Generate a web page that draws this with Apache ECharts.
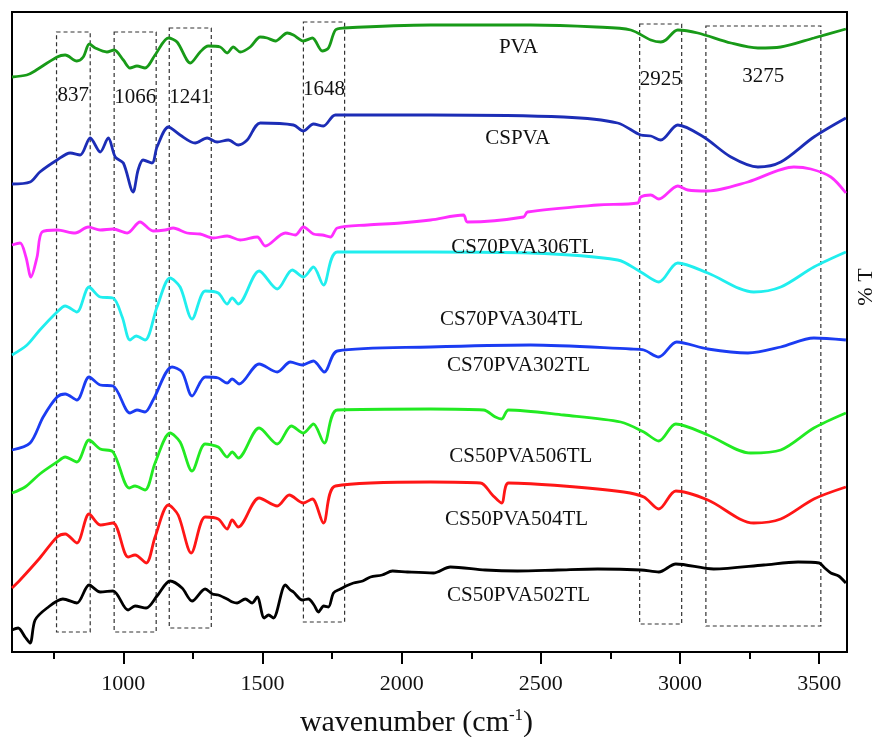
<!DOCTYPE html>
<html>
<head>
<meta charset="utf-8">
<script src="https://cdn.jsdelivr.net/npm/echarts@6/dist/echarts.min.js"></script>
<style>
  html, body { margin: 0; padding: 0; background: #fff; }
  #ftirChart { width: 883px; height: 737px; }
</style>
</head>
<body>
<div id="ftirChart"></div>
<script>
// FTIR spectra, [wavenumber (cm-1), %T with stacking offset]
const pva = [[600,575],[653,577],[676,580],[762,595],[791,597],[833,591],[856,595],[878,608],[899,604],[941,600],[967,602],[1000,592],[1024,584],[1049,586],[1078,584],[1114,597],[1162,614],[1193,610],[1241,589],[1276,600],[1305,606],[1348,605],[1373,599],[1395,605],[1420,600],[1456,605],[1492,615],[1517,614],[1546,611],[1589,619],[1611,617],[1647,611],[1679,614],[1715,601],[1737,604],[1762,622],[1791,624],[2104,627],[2463,627],[2700,625],[2823,622],[2895,612],[2931,610],[2949,612],[2992,622],[3064,619],[3183,609],[3280,604],[3362,605],[3481,614],[3596,623]];
const cspva = [[600,468],[665,470],[700,480],[762,492],[809,499],[845,497],[881,514],[917,500],[946,514],[971,495],[1000,489],[1035,460],[1053,482],[1071,492],[1103,489],[1121,505],[1162,525],[1204,517],[1258,509],[1301,514],[1337,510],[1377,512],[1413,507],[1445,512],[1492,529],[1611,527],[1647,521],[1683,528],[1719,526],[1762,537],[2104,537],[2582,535],[2776,529],[2859,517],[2895,516],[2931,512],[2992,527],[3085,515],[3183,495],[3280,485],[3362,490],[3481,515],[3596,534]];
const cs70pva306 = [[600,407],[629,409],[650,395],[668,375],[690,395],[708,420],[762,422],[827,419],[874,425],[917,422],[963,423],[1014,419],[1060,430],[1107,421],[1150,422],[1179,424],[1229,419],[1276,418],[1323,414],[1373,416],[1420,412],[1481,415],[1510,406],[1582,419],[1618,417],[1647,425],[1683,418],[1715,417],[1744,415],[1769,424],[1877,427],[1996,429],[2104,432],[2222,437],[2236,430],[2438,435],[2452,440],[2704,447],[2848,449],[2859,455],[2895,457],[2924,453],[2992,466],[3028,462],[3100,461],[3244,470],[3409,485],[3470,483],[3542,475],[3596,459]];
const cs70pva304 = [[600,297],[654,307],[700,322],[762,340],[791,346],[833,340],[877,365],[917,355],[963,354],[996,335],[1024,312],[1046,316],[1078,312],[1121,345],[1168,374],[1204,365],[1247,333],[1294,361],[1341,359],[1373,348],[1391,354],[1413,348],[1488,381],[1553,363],[1607,382],[1647,375],[1683,385],[1719,367],[1769,400],[2104,400],[2463,399],[2776,392],[2859,380],[2924,370],[2992,389],[3100,379],[3265,360],[3362,365],[3481,385],[3596,400]];
const cs70pva302 = [[600,202],[665,209],[712,235],[762,255],[791,258],[833,252],[877,275],[917,267],[963,266],[1024,239],[1049,242],[1078,240],[1107,252],[1175,285],[1211,280],[1247,256],[1294,275],[1341,274],[1373,269],[1391,273],[1416,268],[1488,288],[1553,280],[1600,290],[1643,287],[1683,291],[1722,280],[1769,301],[2104,305],[2463,307],[2823,303],[2870,302],[2924,295],[2988,310],[3100,303],[3244,299],[3362,305],[3481,314],[3596,312]];
const cs50pva506 = [[600,159],[647,165],[700,178],[762,190],[791,195],[833,190],[877,212],[917,203],[963,200],[1021,164],[1042,166],[1078,162],[1114,189],[1168,219],[1204,210],[1247,181],[1294,208],[1341,205],[1373,195],[1391,200],[1413,194],[1488,224],[1553,208],[1604,226],[1647,219],[1683,228],[1722,209],[1769,242],[2104,243],[2294,242],[2337,235],[2359,233],[2384,242],[2582,237],[2787,230],[2870,220],[2924,211],[2985,228],[3100,217],[3254,199],[3362,202],[3481,224],[3596,239]];
const cs50pva504 = [[600,64],[629,72],[700,94],[762,115],[791,118],[833,109],[877,138],[917,127],[963,129],[1017,95],[1042,97],[1082,89],[1114,115],[1162,147],[1197,137],[1244,99],[1294,135],[1341,133],[1373,123],[1391,132],[1413,125],[1488,154],[1553,146],[1596,157],[1647,149],[1679,153],[1719,129],[1762,166],[2104,170],[2283,169],[2326,157],[2359,149],[2384,169],[2582,166],[2798,160],[2870,155],[2924,143],[2985,161],[3100,152],[3265,129],[3362,133],[3481,153],[3596,165]];
const cs50pva502 = [[600,22],[622,24],[647,15],[665,9],[683,32],[726,44],[783,53],[833,49],[877,67],[917,60],[963,61],[1017,42],[1042,46],[1082,44],[1121,56],[1168,71],[1211,64],[1247,51],[1294,63],[1320,58],[1341,57],[1373,53],[1392,50],[1409,49],[1438,53],[1463,49],[1481,55],[1506,34],[1522,37],[1539,34],[1582,67],[1600,62],[1611,60],[1643,52],[1665,53],[1685,47],[1701,40],[1720,46],[1737,45],[1755,59],[1780,63],[1800,66],[1827,69],[1860,71],[1888,75],[1930,77],[1967,81],[2021,80],[2114,79],[2175,85],[2300,82],[2416,81],[2560,82],[2704,83],[2860,82],[2924,80],[2985,88],[3121,83],[3301,87],[3424,90],[3500,89],[3520,84],[3542,79],[3570,76],[3596,69]];

const seriesNames = ['PVA', 'CSPVA', 'CS70PVA306TL', 'CS70PVA304TL', 'CS70PVA302TL', 'CS50PVA506TL', 'CS50PVA504TL', 'CS50PVA502TL'];
const seriesData = [pva, cspva, cs70pva306, cs70pva304, cs70pva302, cs50pva506, cs50pva504, cs50pva502];

// labelled band regions [label, from, to, top, bottom]
const bandNames = ['837', '1066', '1241', '1648', '2925', '3275'];
const bandFrom = [760, 967, 1165, 1647, 2855, 3093];
const bandTo = [881, 1118, 1316, 1795, 3006, 3506];
const bandTop = [620, 620, 624, 630, 628, 626];
const bandBottom = [20, 20, 24, 30, 28, 26];

const majorTicks = [1000, 1500, 2000, 2500, 3000, 3500];
const minorTicks = [750, 1250, 1750, 2250, 2750, 3250];

// ---- styling ----
const colors = ['#189a18', '#1c2db6', '#ff2eff', '#20eeee', '#1b3cf2', '#22ea22', '#ff1616', '#000000'];
const labelAt = [[2420, 605], [2417, 514], [2435, 405], [2395, 333], [2420, 287], [2428, 196], [2413, 133], [2420, 57]];
const bandLabelGap = [54, 56, 60, 58, 46, 41];
const serif = "'Liberation Serif', 'Times New Roman', serif";

var ftirChart = echarts.init(document.getElementById('ftirChart'));

const series = seriesNames.map(function (name, i) {
    return {
        name: name,
        type: 'line',
        data: seriesData[i],
        showSymbol: false,
        smooth: 0.3,
        lineStyle: { color: colors[i], width: 2.8 },
        z: 3,
        markPoint: {
            symbol: 'circle',
            symbolSize: 1,
            itemStyle: { color: 'rgba(0,0,0,0)' },
            label: {
                show: true,
                position: 'inside',
                formatter: name,
                color: '#111',
                fontSize: 21,
                fontFamily: serif
            },
            data: [{ coord: labelAt[i] }]
        }
    };
});

// dashed boxes around the characteristic bands
series.push({
    name: 'bands',
    type: 'line',
    data: [],
    markArea: {
        silent: true,
        itemStyle: {
            color: 'rgba(0,0,0,0)',
            borderColor: '#333',
            borderWidth: 1.2,
            borderType: [4, 3]
        },
        data: bandNames.map(function (b, i) {
            return [
                {
                    name: b,
                    xAxis: bandFrom[i],
                    yAxis: bandTop[i],
                    label: {
                        show: true,
                        position: 'insideTop',
                        distance: bandLabelGap[i],
                        color: '#111',
                        fontSize: 21,
                        fontFamily: serif
                    }
                },
                { xAxis: bandTo[i], yAxis: bandBottom[i] }
            ];
        })
    }
});

var option = {
    animation: false,
    backgroundColor: '#fff',
    grid: {
        left: 12,
        right: 36,
        top: 12,
        bottom: 85,
        outerBoundsMode: 'none',
        show: true,
        borderColor: '#000',
        borderWidth: 2
    },
    xAxis: [
        {
            type: 'value',
            min: 600,
            max: 3600,
            position: 'bottom',
            name: 'wavenumber (cm{sup|-1}{p|)}',
            nameLocation: 'middle',
            nameGap: 55,
            nameTextStyle: {
                fontFamily: serif,
                fontSize: 30,
                color: '#111',
                padding: [0, 26, 0, 0],
                rich: {
                    sup: { fontFamily: serif, fontSize: 17, color: '#111', padding: [0, 0, 16, 0] },
                    p: { fontFamily: serif, fontSize: 30, color: '#111' }
                }
            },
            axisLine: { lineStyle: { color: '#000', width: 2 } },
            axisTick: {
                customValues: majorTicks,
                length: 12,
                lineStyle: { color: '#000', width: 2 }
            },
            axisLabel: {
                customValues: majorTicks,
                margin: 21,
                fontSize: 22,
                fontFamily: serif,
                color: '#111',
                formatter: function (v) { return String(v); }
            },
            splitLine: { show: false }
        },
        {
            type: 'value',
            min: 600,
            max: 3600,
            position: 'bottom',
            axisLine: { show: false },
            axisTick: {
                customValues: minorTicks,
                length: 7,
                lineStyle: { color: '#000', width: 2 }
            },
            axisLabel: { show: false },
            splitLine: { show: false }
        }
    ],
    yAxis: {
        type: 'value',
        min: 0,
        max: 640,
        axisLine: { show: false },
        axisTick: { show: false },
        axisLabel: { show: false },
        splitLine: { show: false }
    },
    graphic: [
        {
            type: 'text',
            x: 866,
            y: 287,
            rotation: Math.PI / 2,
            style: {
                text: '% T',
                fontFamily: serif,
                fontSize: 22,
                fill: '#111',
                align: 'center',
                verticalAlign: 'middle'
            }
        }
    ],
    series: series
};

ftirChart.setOption(option);
</script>
</body>
</html>
